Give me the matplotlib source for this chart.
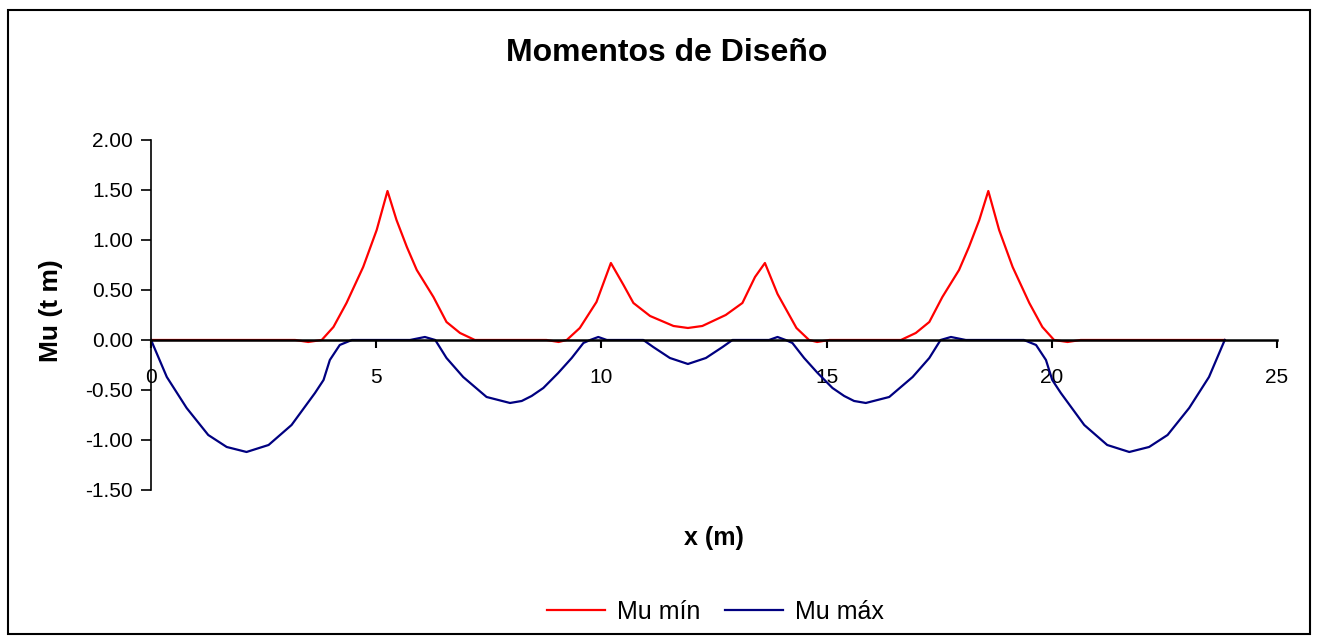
import numpy as np
import matplotlib.pyplot as plt
from matplotlib.patches import Rectangle

plt.rcParams['font.family'] = ['Liberation Sans', 'DejaVu Sans']

# Mu mín (envolvente positiva)
x_min = [0, 3.20, 3.49, 3.79, 4.05, 4.34, 4.71, 5.01, 5.25, 5.45, 5.68, 5.90,
         6.27, 6.56, 6.86, 7.19, 8.78, 9.05, 9.23, 9.52, 9.89, 10.21, 10.49,
         10.71, 11.08, 11.60, 11.92, 12.24, 12.76, 13.13, 13.41, 13.63, 13.91,
         14.33, 14.61, 14.79, 15.06, 16.65, 16.98, 17.28, 17.57, 17.94, 18.16,
         18.39, 18.59, 18.83, 19.13, 19.50, 19.79, 20.05, 20.35, 20.64, 23.84]
mu_min = [0, 0, -0.02, 0.0, 0.13, 0.37, 0.73, 1.10, 1.49, 1.20, 0.93, 0.70,
          0.43, 0.18, 0.07, 0, 0, -0.02, 0, 0.12, 0.38, 0.77, 0.55,
          0.37, 0.24, 0.14, 0.12, 0.14, 0.25, 0.37, 0.63, 0.77, 0.46,
          0.12, 0, -0.02, 0, 0, 0.07, 0.18, 0.43, 0.70, 0.93,
          1.20, 1.49, 1.10, 0.73, 0.37, 0.13, 0.0, -0.02, 0, 0]

# Mu máx (envolvente negativa)
x_max = [0, 0.35, 0.79, 1.27, 1.68, 2.12, 2.61, 3.12, 3.64, 3.83, 3.97, 4.19,
         4.46, 5.75, 6.08, 6.31, 6.56, 6.93, 7.45, 7.97, 8.23, 8.45, 8.71,
         9.04, 9.34, 9.60, 9.75, 9.93, 10.12, 10.93, 11.15, 11.52, 11.92,
         12.32, 12.69, 12.91, 13.72, 13.91, 14.09, 14.24, 14.50, 14.80, 15.13,
         15.39, 15.61, 15.87, 16.39, 16.91, 17.28, 17.53, 17.76, 18.09, 19.38,
         19.65, 19.87, 20.01, 20.20, 20.72, 21.23, 21.72, 22.16, 22.57, 23.05,
         23.49, 23.84]
mu_max = [0, -0.37, -0.68, -0.95, -1.07, -1.12, -1.05, -0.85, -0.53, -0.40, -0.20, -0.05,
          0, 0, 0.03, 0, -0.18, -0.37, -0.57, -0.63, -0.61, -0.56, -0.48,
          -0.33, -0.18, -0.03, 0, 0.03, 0, 0, -0.07, -0.18, -0.24,
          -0.18, -0.07, 0, 0, 0.03, 0, -0.03, -0.18, -0.33, -0.48,
          -0.56, -0.61, -0.63, -0.57, -0.37, -0.18, 0, 0.03, 0, 0,
          -0.05, -0.20, -0.40, -0.53, -0.85, -1.05, -1.12, -1.07, -0.95, -0.68,
          -0.37, 0]

fig = plt.figure(figsize=(13.18, 6.41), dpi=100)
ax = fig.add_axes([0.1146, 0.2356, 0.8543, 0.546])

ax.plot(x_min, mu_min, color='#ff0000', lw=1.6, label='Mu mín')
ax.plot(x_max, mu_max, color='#000080', lw=1.6, label='Mu máx')

ax.set_xlim(0, 25)
ax.set_ylim(-1.5, 2.0)
ax.set_xticks(np.arange(0, 26, 5))
ax.set_yticks(np.arange(-1.5, 2.01, 0.5))
ax.yaxis.set_major_formatter(plt.FormatStrFormatter('%.2f'))

for s in ['top', 'right']:
    ax.spines[s].set_visible(False)
ax.spines['bottom'].set_position(('data', 0))
ax.spines['bottom'].set_linewidth(1.8)
ax.spines['left'].set_linewidth(1.2)
ax.tick_params(axis='x', direction='out', length=6, width=1.5, pad=14, labelsize=15)
ax.tick_params(axis='y', direction='out', length=7, width=1.2, pad=6, labelsize=15)

fig.text(0.5055, 0.918, 'Momentos de Diseño', ha='center', va='center',
         fontsize=23, fontweight='bold')
fig.text(0.0387, 0.516, 'Mu (t m)', ha='center', va='center', rotation=90,
         fontsize=19, fontweight='bold')
fig.text(0.5415, 0.160, 'x (m)', ha='center', va='center',
         fontsize=18, fontweight='bold')

fig.legend(loc='center', bbox_to_anchor=(0.543, 0.045), ncol=2, frameon=False,
           fontsize=18, handlelength=2.3, columnspacing=1.0, handletextpad=0.5)

fig.patches.append(Rectangle((0.006, 0.011), 0.988, 0.973, transform=fig.transFigure,
                             fill=False, edgecolor='black', lw=1.5))

fig.savefig('out.png', dpi=100)
